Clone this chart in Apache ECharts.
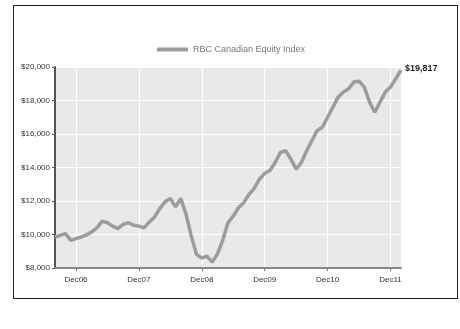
<!DOCTYPE html>
<html>
<head>
<meta charset="utf-8">
<script src="https://cdn.jsdelivr.net/npm/echarts@6/dist/echarts.min.js"></script>
<style>
  html, body { margin: 0; padding: 0; background: #fff; }
  #frame { position: absolute; left: 13px; top: 5px; width: 443px; height: 292px; border: 1px solid #222; }
  #chart { position: absolute; left: 0; top: 0; width: 460px; height: 329px; }
</style>
</head>
<body>
<div id="frame"></div>
<div id="chart"></div>
<script>
// months Aug06 .. Feb12
const months = [
  'Aug06','Sep06','Oct06','Nov06','Dec06',
  'Jan07','Feb07','Mar07','Apr07','May07','Jun07','Jul07','Aug07','Sep07','Oct07','Nov07','Dec07',
  'Jan08','Feb08','Mar08','Apr08','May08','Jun08','Jul08','Aug08','Sep08','Oct08','Nov08','Dec08',
  'Jan09','Feb09','Mar09','Apr09','May09','Jun09','Jul09','Aug09','Sep09','Oct09','Nov09','Dec09',
  'Jan10','Feb10','Mar10','Apr10','May10','Jun10','Jul10','Aug10','Sep10','Oct10','Nov10','Dec10',
  'Jan11','Feb11','Mar11','Apr11','May11','Jun11','Jul11','Aug11','Sep11','Oct11','Nov11','Dec11',
  'Jan12','Feb12'
]

// growth of $10,000
const indexValues = [
  9850, 9950, 10050, 9650, 9750,
  9850, 9980, 10150, 10400, 10800, 10700, 10500, 10350, 10600, 10700, 10550, 10500,
  10400, 10750, 11050, 11550, 11950, 12150, 11650, 12150, 11200, 9900, 8800, 8600,
  8700, 8350, 8850, 9650, 10700, 11100, 11600, 11900, 12400, 12750, 13300, 13650,
  13820, 14300, 14900, 15000, 14500, 13900, 14300, 15000, 15600, 16200, 16400, 17000,
  17600, 18200, 18500, 18700, 19100, 19150, 18800, 17900, 17300, 17900, 18500, 18800,
  19300, 19817
]

const seriesName = 'RBC Canadian Equity Index'

const chart = echarts.init(document.getElementById('chart'))

// only December months get a tick, label and grid line
const isDec = (idx, val) => val.indexOf('Dec') === 0

chart.setOption({
  animation: false,
  textStyle: { fontFamily: 'Liberation Sans, Arial, sans-serif' },
  legend: {
    top: 40,
    left: 152,
    itemWidth: 31,
    itemHeight: 4,
    itemGap: 10,
    icon: 'rect',
    textStyle: { fontSize: 9, color: '#777' },
    data: [seriesName]
  },
  grid: {
    left: 55,
    right: 59,
    top: 67,
    bottom: 61,
    show: true,
    backgroundColor: '#e9e9e9',
    borderWidth: 0
  },
  xAxis: {
    type: 'category',
    boundaryGap: false,
    data: months,
    axisLine: { lineStyle: { color: '#888', width: 2 } },
    axisTick: { interval: isDec, length: 3, lineStyle: { color: '#777' } },
    axisLabel: { interval: isDec, fontSize: 8, color: '#333', margin: 8 },
    splitLine: { show: true, interval: isDec, lineStyle: { color: '#fff', width: 1 } }
  },
  yAxis: {
    type: 'value',
    min: 8000,
    max: 20000,
    interval: 2000,
    axisLine: { show: true, lineStyle: { color: '#555', width: 2 } },
    axisTick: { show: true, length: 3, lineStyle: { color: '#555' } },
    axisLabel: {
      fontSize: 8,
      color: '#333',
      margin: 5,
      formatter: v => '$' + v.toLocaleString('en-US')
    },
    splitLine: { lineStyle: { color: '#fff', width: 1 } }
  },
  series: [{
    name: seriesName,
    type: 'line',
    data: indexValues,
    showSymbol: false,
    lineStyle: { color: '#9c9c9c', width: 3.5 },
    itemStyle: { color: '#9c9c9c' },
    endLabel: {
      show: true,
      distance: 4,
      offset: [0, -2],
      fontSize: 9,
      fontWeight: 'bold',
      color: '#222',
      formatter: p => '$' + p.value.toLocaleString('en-US')
    }
  }]
})
</script>
</body>
</html>
